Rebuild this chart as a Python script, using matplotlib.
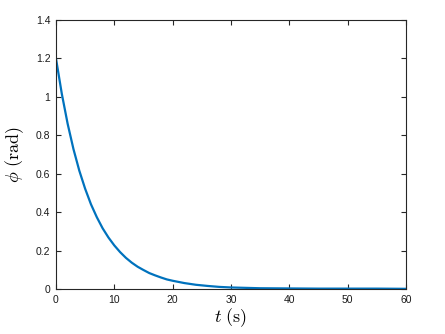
import matplotlib
matplotlib.use('Agg')
import matplotlib.pyplot as plt
from matplotlib.ticker import FuncFormatter

# angle decay
t = [0, 1, 2, 3, 4, 5, 6, 7, 8, 9, 10, 11, 12, 13, 14, 15, 16, 17, 18, 19, 20,
     22, 24, 26, 28, 30, 35, 40, 45, 50, 55, 60]
phi = [1.200, 1.016, 0.860, 0.728, 0.616, 0.522, 0.441, 0.374, 0.316, 0.268,
       0.227, 0.192, 0.162, 0.137, 0.116, 0.099, 0.083, 0.071, 0.060, 0.050,
       0.043, 0.031, 0.022, 0.016, 0.011, 0.008, 0.004, 0.003, 0.002, 0.002,
       0.002, 0.001]

xticks = [0, 10, 20, 30, 40, 50, 60]
yticks = [0, 0.2, 0.4, 0.6, 0.8, 1.0, 1.2, 1.4]

plt.rcParams['font.family'] = ['Liberation Sans', 'DejaVu Sans']
plt.rcParams['mathtext.fontset'] = 'cm'

fig = plt.figure(figsize=(4.45, 3.34), dpi=100)
ax = fig.add_axes([0.1258, 0.1347, 0.912 - 0.1258, 0.940 - 0.1347])

ax.plot(t, phi, color=(0, 0.447, 0.741), lw=1.6)

ax.set_xlim(0, 60)
ax.set_ylim(0, 1.4)
ax.set_xticks(xticks)
ax.set_yticks(yticks)
ax.yaxis.set_major_formatter(FuncFormatter(lambda v, p: '%g' % v))

for s in ax.spines.values():
    s.set_color('0.15')
    s.set_linewidth(0.8)
ax.tick_params(direction='in', length=3.5, width=0.8, color='0.15',
               labelsize=7.5, labelcolor='0.1', top=True, right=True, pad=4)

ax.set_xlabel(r'$t\ \mathrm{(s)}$', fontsize=13, labelpad=1)
ax.set_ylabel(r'$\phi\ \mathrm{(rad)}$', fontsize=13, labelpad=7)

fig.savefig('out.png', dpi=100)
